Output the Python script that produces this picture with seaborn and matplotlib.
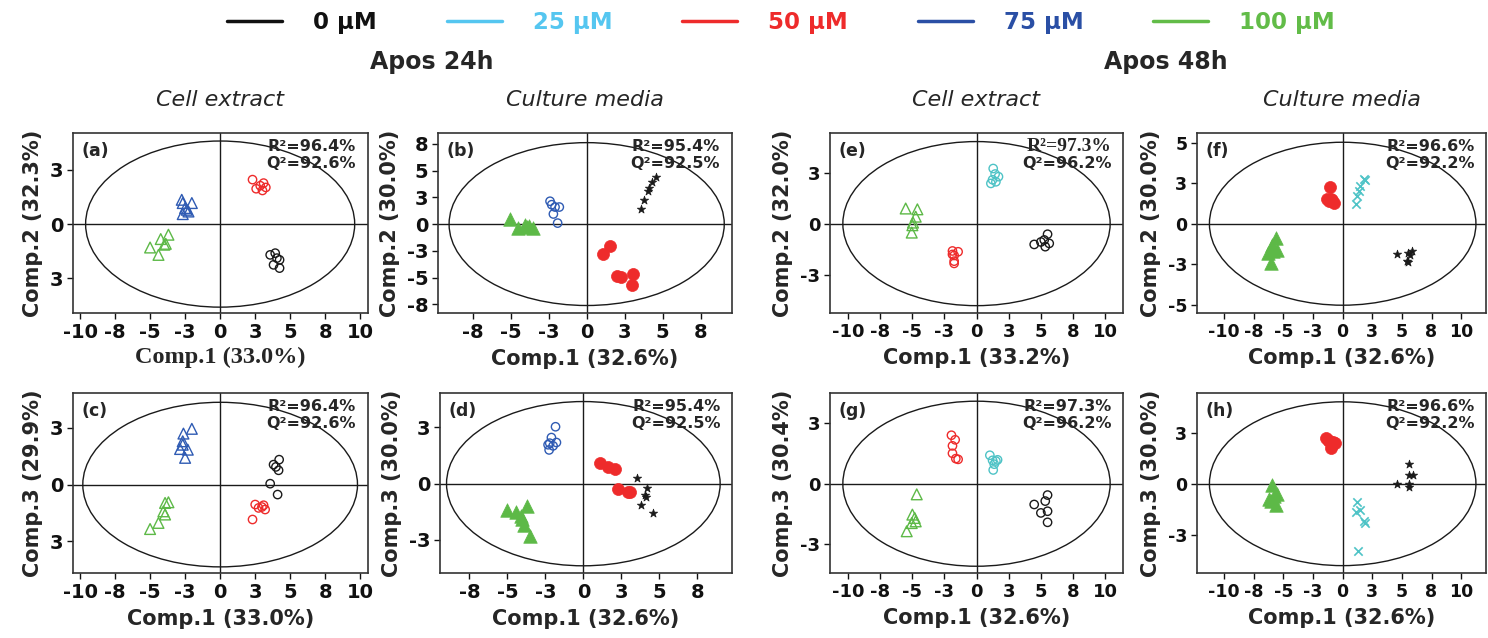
import numpy as np
import matplotlib
matplotlib.use("Agg")
import matplotlib.pyplot as plt
import seaborn as sns
from matplotlib.patches import Ellipse
from matplotlib.lines import Line2D

sns.set_style("ticks")
plt.rcParams["font.family"] = ["DejaVu Sans"]

# ---------------- data ----------------
conc_labels = ["0 µM", "25 µM", "50 µM", "75 µM", "100 µM"]
legend_colors = ["#111111", "#55C6F0", "#EE2B2B", "#2A4FA5", "#62BC48"]
plot_colors = {"0": "#1a1a1a", "25": "#4EC3C6", "50": "#EE2B2B", "75": "#2F5BB3", "100": "#5DB947"}

# Panel (a)
a0_x = [3.57, 3.93, 4.24, 3.81, 4.24, 4.05]
a0_y = [-1.42, -1.34, -1.65, -1.88, -2.03, -1.57]
a50_x = [2.31, 2.57, 2.86, 3.10, 3.26, 3.02]
a50_y = [2.05, 1.63, 1.77, 1.89, 1.69, 1.55]
a75_x = [-2.74, -2.67, -2.02, -2.50, -2.26, -2.67, -2.38]
a75_y = [1.12, 0.97, 0.97, 0.74, 0.58, 0.46, 0.66]
a100_x = [-3.69, -4.24, -3.98, -5.00, -4.40, -3.88]
a100_y = [-0.49, -0.69, -0.95, -1.08, -1.42, -0.91]
# Panel (b)
b0_x = [3.55, 3.77, 4.06, 4.12, 4.28, 4.56]
b0_y = [1.41, 2.28, 3.06, 3.38, 3.91, 4.41]
b50_x = [1.54, 1.10, 1.97, 2.24, 3.03, 2.96]
b50_y = [-2.03, -2.81, -4.84, -4.91, -4.63, -5.69]
b75_x = [-2.41, -2.30, -2.08, -1.80, -2.19, -1.91]
b75_y = [2.13, 1.81, 1.59, 1.59, 0.94, 0.09]
b100_x = [-5.04, -4.50, -4.06, -3.77, -3.51, -3.95]
b100_y = [0.47, -0.375, -0.06, -0.16, -0.375, -0.31]
# Panel (c)
c0_x = [4.21, 3.81, 3.98, 4.17, 3.57, 4.10]
c0_y = [1.10, 0.88, 0.78, 0.63, 0.04, -0.44]
c50_x = [2.50, 2.74, 2.98, 3.10, 3.21, 2.31]
c50_y = [-0.88, -1.03, -0.99, -0.91, -1.10, -1.54]
c75_x = [-2.02, -2.62, -2.67, -2.86, -2.31, -2.50, -2.67]
c75_y = [2.46, 2.25, 1.91, 1.57, 1.54, 1.18, 1.76]
c100_x = [-3.69, -3.93, -4.05, -3.93, -4.40, -5.00]
c100_y = [-0.78, -0.81, -1.18, -1.32, -1.69, -1.96]
# Panel (d)
d0_x = [3.53, 4.19, 4.08, 4.15, 3.80, 4.59]
d0_y = [0.27, -0.18, -0.52, -0.58, -0.97, -1.32]
d50_x = [1.10, 1.59, 2.10, 2.25, 2.91, 3.05]
d50_y = [0.94, 0.76, 0.64, -0.22, -0.36, -0.37]
d75_x = [-1.83, -2.10, -2.21, -1.77, -2.32, -1.99, -2.25]
d75_y = [2.53, 2.05, 1.80, 1.83, 1.73, 1.68, 1.50]
d100_x = [-5.01, -4.42, -3.71, -4.02, -3.93, -3.53, -4.08]
d100_y = [-1.19, -1.26, -1.00, -1.59, -1.85, -2.31, -1.44]
# Panel (e)
e0_x = [4.49, 5.01, 5.53, 5.27, 5.66, 5.35]
e0_y = [-1.02, -0.90, -0.52, -0.80, -0.97, -1.13]
e25_x = [1.30, 1.45, 1.71, 1.25, 1.51, 1.12]
e25_y = [2.70, 2.43, 2.30, 2.15, 2.05, 1.97]
e50_x = [-1.87, -1.43, -1.74, -1.74, -1.74, -1.87]
e50_y = [-1.34, -1.38, -1.56, -1.84, -1.95, -1.51]
e100_x = [-5.51, -4.60, -4.73, -4.94, -4.99, -5.04]
e100_y = [0.74, 0.70, 0.34, 0.05, -0.08, -0.44]
# Panel (f)
f0_x = [4.56, 5.49, 5.89, 5.55, 5.69, 5.41]
f0_y = [-1.86, -1.79, -1.69, -2.37, -1.90, -2.31]
f25_x = [1.83, 1.46, 1.38, 1.18, 1.10, 1.89]
f25_y = [2.78, 2.33, 2.02, 1.71, 1.24, 2.70]
f50_x = [-1.07, -1.35, -1.15, -0.87, -0.70, -0.99]
f50_y = [2.27, 1.55, 1.40, 1.46, 1.30, 1.51]
f100_x = [-5.63, -6.00, -5.58, -6.28, -5.86, -6.08]
f100_y = [-0.87, -1.28, -1.59, -1.79, -1.69, -2.41]
# Panel (g)
g0_x = [4.49, 5.53, 5.35, 5.01, 5.53, 5.53]
g0_y = [-0.86, -0.47, -0.72, -1.21, -1.14, -1.60]
g25_x = [1.04, 1.25, 1.64, 1.38, 1.30, 1.51]
g25_y = [1.18, 0.97, 0.99, 0.81, 0.57, 0.94]
g50_x = [-1.95, -1.66, -1.87, -1.87, -1.61, -1.43]
g50_y = [2.01, 1.82, 1.57, 1.26, 1.04, 1.01]
g100_x = [-4.65, -4.99, -4.81, -4.73, -5.04, -5.43]
g100_y = [-0.44, -1.28, -1.42, -1.56, -1.63, -1.97]
# Panel (h)
h0_x = [4.56, 5.58, 5.58, 5.63, 5.58, 5.92]
h0_y = [0.00, 0.00, -0.15, 0.95, 0.41, 0.41]
h25_x = [1.18, 1.13, 1.46, 1.83, 1.92, 1.27]
h25_y = [-0.90, -1.39, -1.29, -1.83, -1.91, -3.30]
h50_x = [-1.41, -1.13, -0.79, -0.99, -0.65, -1.27]
h50_y = [2.21, 2.09, 2.04, 1.76, 1.99, 2.14]
h100_x = [-5.97, -5.55, -6.25, -5.63, -5.83, -6.06]
h100_y = [-0.08, -0.49, -0.77, -1.06, -0.60, -0.85]

# model statistics
r2_values = {"a": "96.4", "b": "95.4", "c": "96.4", "d": "95.4", "e": "97.3", "f": "96.6", "g": "97.3", "h": "96.6"}
q2_values = {"a": "92.6", "b": "92.5", "c": "92.6", "d": "92.5", "e": "96.2", "f": "92.2", "g": "96.2", "h": "92.2"}
x_labels = {"a": "Comp.1 (33.0%)", "b": "Comp.1 (32.6%)", "c": "Comp.1 (33.0%)", "d": "Comp.1 (32.6%)",
            "e": "Comp.1 (33.2%)", "f": "Comp.1 (32.6%)", "g": "Comp.1 (32.6%)", "h": "Comp.1 (32.6%)"}
y_labels = {"a": "Comp.2 (32.3%)", "b": "Comp.2 (30.0%)", "c": "Comp.3 (29.9%)", "d": "Comp.3 (30.0%)",
            "e": "Comp.2 (32.0%)", "f": "Comp.2 (30.0%)", "g": "Comp.3 (30.4%)", "h": "Comp.3 (30.0%)"}
# confidence ellipse semi-axes
ellipse_rx = {"a": 9.6, "b": 9.05, "c": 9.8, "d": 9.0, "e": 10.4, "f": 11.25, "g": 10.4, "h": 11.25}
ellipse_ry = {"a": 3.83, "b": 7.6, "c": 3.63, "d": 3.65, "e": 4.02, "f": 5.02, "g": 3.42, "h": 4.0}

# ticks
wide_xticks = [-10, -7.5, -5, -2.5, 0, 2.5, 5, 7.5, 10]
wide_xticklabels = ["-10", "-8", "-5", "-3", "0", "3", "5", "8", "10"]
mid_xticks = [-7.5, -5, -2.5, 0, 2.5, 5, 7.5]
mid_xticklabels = ["-8", "-5", "-3", "0", "3", "5", "8"]
small_yticks = [2.5, 0, -2.5]
small_yticklabels_nominus = ["3", "0", "3"]
small_yticklabels = ["3", "0", "-3"]
b_yticks = [7.5, 5, 2.5, 0, -2.5, -5, -7.5]
b_yticklabels = ["8", "5", "3", "0", "-3", "-5", "-8"]
f_yticks = [5, 2.5, 0, -2.5, -5]
f_yticklabels = ["5", "3", "0", "-3", "-5"]

# ---------------- figure ----------------
W, H = 1488, 638
fig = plt.figure(figsize=(W / 100, H / 100), dpi=100)

def rect(l, r, t, b):
    return [l / W, 1 - b / H, (r - l) / W, (b - t) / H]

layout = {
    "a": rect(73, 368, 133, 313), "b": rect(438, 732, 133, 313),
    "e": rect(830, 1123, 133, 313), "f": rect(1197, 1486, 133, 313),
    "c": rect(73, 368, 393, 573), "d": rect(440, 732, 393, 573),
    "g": rect(830, 1123, 393, 573), "h": rect(1197, 1486, 393, 573),
}
xlims = {"a": (-10.5, 10.55), "c": (-10.5, 10.55), "b": (-9.78, 9.56), "d": (-9.43, 9.78),
         "e": (-11.4, 11.4), "g": (-11.4, 11.4), "f": (-12.3, 12.1), "h": (-12.3, 12.1)}
ylims = {"a": (-4.1, 4.2), "b": (-8.3, 8.5), "c": (-3.9, 4.04), "d": (-3.97, 4.03),
         "e": (-4.38, 4.44), "f": (-5.5, 5.59), "g": (-3.7, 3.76), "h": (-4.36, 4.43)}
tick_size = {"a": 14, "b": 14, "c": 14, "d": 14, "e": 13, "f": 12.5, "g": 13, "h": 12.5}

STYLES = {
    "open_circle": dict(marker="o", s=36, lw=1.0, open=True),
    "open_tri": dict(marker="^", s=60, lw=1.0, open=True),
    "filled_circle": dict(marker="o", s=75, lw=0.5, open=False),
    "filled_tri": dict(marker="^", s=95, lw=0.5, open=False),
    "star": dict(marker="*", s=40, lw=0.5, open=False),
    "cross": dict(marker="x", s=36, lw=1.2, open=None),
}

panels = {
    "a": [(a0_x, a0_y, "open_circle", "0"), (a50_x, a50_y, "open_circle", "50"),
          (a75_x, a75_y, "open_tri", "75"), (a100_x, a100_y, "open_tri", "100")],
    "c": [(c0_x, c0_y, "open_circle", "0"), (c50_x, c50_y, "open_circle", "50"),
          (c75_x, c75_y, "open_tri", "75"), (c100_x, c100_y, "open_tri", "100")],
    "b": [(b0_x, b0_y, "star", "0"), (b50_x, b50_y, "filled_circle", "50"),
          (b75_x, b75_y, "open_circle", "75"), (b100_x, b100_y, "filled_tri", "100")],
    "d": [(d0_x, d0_y, "star", "0"), (d50_x, d50_y, "filled_circle", "50"),
          (d75_x, d75_y, "open_circle", "75"), (d100_x, d100_y, "filled_tri", "100")],
    "e": [(e0_x, e0_y, "open_circle", "0"), (e25_x, e25_y, "open_circle", "25"),
          (e50_x, e50_y, "open_circle", "50"), (e100_x, e100_y, "open_tri", "100")],
    "g": [(g0_x, g0_y, "open_circle", "0"), (g25_x, g25_y, "open_circle", "25"),
          (g50_x, g50_y, "open_circle", "50"), (g100_x, g100_y, "open_tri", "100")],
    "f": [(f0_x, f0_y, "star", "0"), (f25_x, f25_y, "cross", "25"),
          (f50_x, f50_y, "filled_circle", "50"), (f100_x, f100_y, "filled_tri", "100")],
    "h": [(h0_x, h0_y, "star", "0"), (h25_x, h25_y, "cross", "25"),
          (h50_x, h50_y, "filled_circle", "50"), (h100_x, h100_y, "filled_tri", "100")],
}
xticks_for = {k: (mid_xticks, mid_xticklabels) if k in "bd" else (wide_xticks, wide_xticklabels) for k in "abcdefgh"}
yticks_for = {"a": (small_yticks, small_yticklabels_nominus), "c": (small_yticks, small_yticklabels_nominus),
              "b": (b_yticks, b_yticklabels), "d": (small_yticks, small_yticklabels),
              "e": (small_yticks, small_yticklabels), "f": (f_yticks, f_yticklabels),
              "g": (small_yticks, small_yticklabels), "h": (small_yticks, small_yticklabels)}

axes = {}
for key in "abcdefgh":
    ax = fig.add_axes(layout[key])
    axes[key] = ax
    ax.add_patch(Ellipse((0, 0), 2 * ellipse_rx[key], 2 * ellipse_ry[key], fill=False,
                         ec="#1a1a1a", lw=1.0, zorder=1))
    ax.axhline(0, color="#1a1a1a", lw=1.0, zorder=1)
    ax.axvline(0, color="#1a1a1a", lw=1.0, zorder=1)
    for xs, ys, style, grp in panels[key]:
        st = STYLES[style]
        col = plot_colors[grp]
        if st["open"] is True:
            sns.scatterplot(x=xs, y=ys, ax=ax, marker=st["marker"], s=st["s"], facecolor="none",
                            edgecolor=col, linewidth=st["lw"], legend=False, zorder=3)
        elif st["open"] is False:
            sns.scatterplot(x=xs, y=ys, ax=ax, marker=st["marker"], s=st["s"], color=col,
                            edgecolor=col, linewidth=st["lw"], legend=False, zorder=3)
        else:
            sns.scatterplot(x=xs, y=ys, ax=ax, marker=st["marker"], s=st["s"], color=col,
                            linewidth=st["lw"], legend=False, zorder=3)
    ax.set_xlim(*xlims[key])
    ax.set_ylim(*ylims[key])
    xt, xtl = xticks_for[key]
    yt, ytl = yticks_for[key]
    ax.set_xticks(xt)
    ax.set_xticklabels(xtl, fontweight="bold")
    ax.set_yticks(yt)
    ax.set_yticklabels(ytl, fontweight="bold")
    ax.tick_params(direction="out", length=4, width=1, labelsize=tick_size[key], pad=3, colors="#111")
    for sp in ax.spines.values():
        sp.set_linewidth(1.2)
        sp.set_color("#333333")
        sp.set_visible(True)
    if key == "a":
        ax.set_xlabel(x_labels[key], fontsize=17.5, fontweight="bold", family="Liberation Serif", labelpad=4)
    else:
        ax.set_xlabel(x_labels[key], fontsize=15, fontweight="bold", labelpad=5)
    ax.set_ylabel(y_labels[key], fontsize=15, fontweight="bold", labelpad=5)
    ax.text(0.028, 0.9, f"({key})", transform=ax.transAxes, ha="left", va="center",
            fontsize=12.5, fontweight="bold")
    if key == "e":
        ax.text(0.96, 0.925, f"R²={r2_values[key]}%", transform=ax.transAxes, ha="right", va="center",
                fontsize=14, fontweight="bold", family="Liberation Serif")
    else:
        ax.text(0.96, 0.925, f"R²={r2_values[key]}%", transform=ax.transAxes, ha="right", va="center",
                fontsize=11.5, fontweight="bold")
    ax.text(0.96, 0.83, f"Q²={q2_values[key]}%", transform=ax.transAxes, ha="right", va="center",
            fontsize=11.5, fontweight="bold")

# column subtitles
subtitles = {"a": "Cell extract", "b": "Culture media", "e": "Cell extract", "f": "Culture media"}
for key, txt in subtitles.items():
    pos = axes[key].get_position()
    fig.text(pos.x0 + pos.width / 2, 1 - 100 / H, txt, ha="center", va="center",
             fontsize=16, style="italic")

fig.text(432 / W, 1 - 62 / H, "Apos 24h", ha="center", va="center", fontsize=17, fontweight="bold")
fig.text(1166 / W, 1 - 62 / H, "Apos 48h", ha="center", va="center", fontsize=17, fontweight="bold")

handles = [Line2D([], [], color=c, lw=2.5) for c in legend_colors]
leg = fig.legend(handles, conc_labels, loc="center", bbox_to_anchor=(781 / W, 1 - 23 / H), ncol=5,
                 frameon=False, handlelength=2.4, handletextpad=1.35, columnspacing=3.05,
                 prop={"weight": "bold", "size": 16.5})
for t, c in zip(leg.get_texts(), legend_colors):
    t.set_color(c)

fig.savefig("out.png", dpi=100)
